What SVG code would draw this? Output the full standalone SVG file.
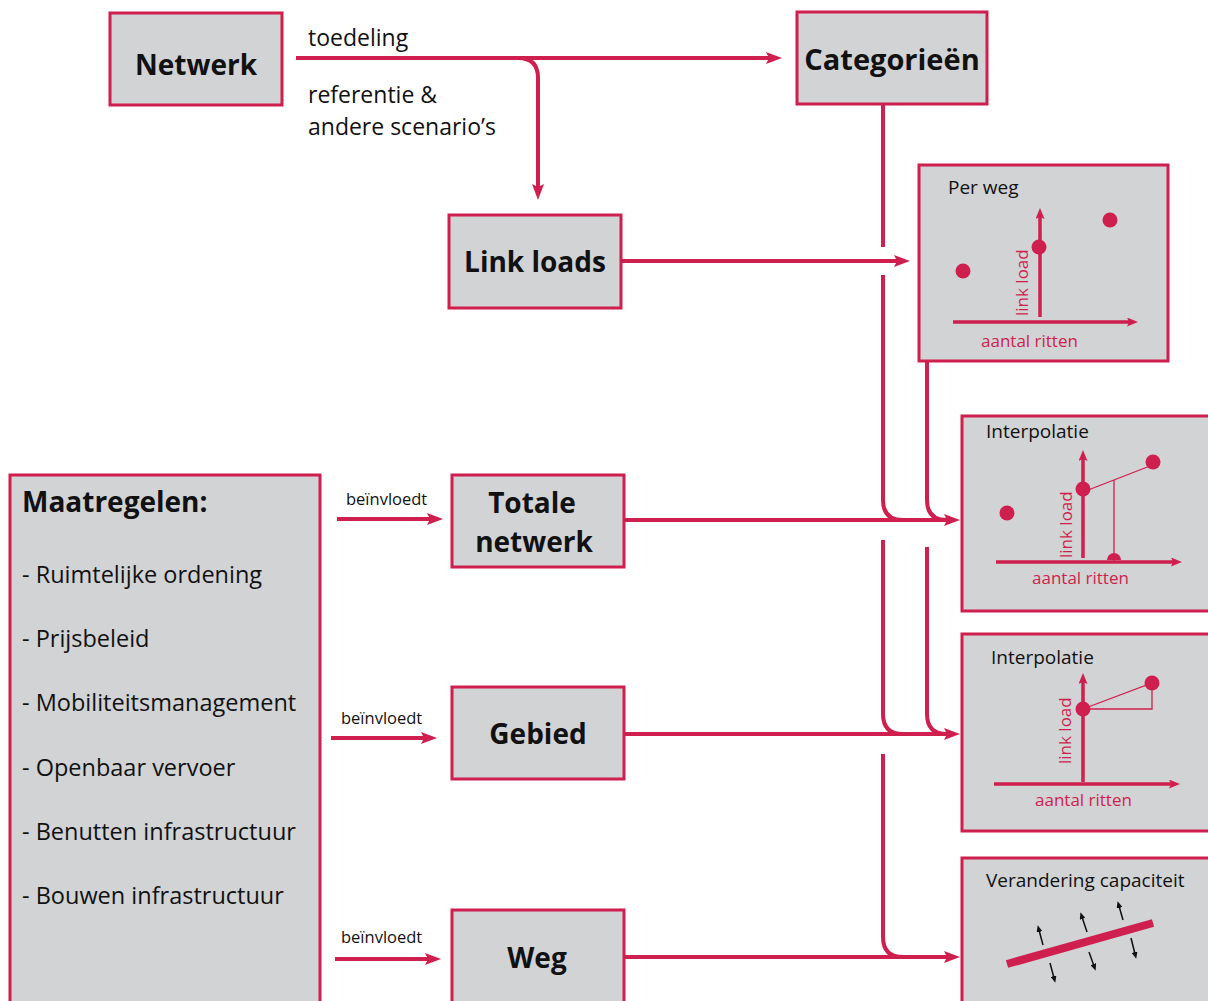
<svg xmlns="http://www.w3.org/2000/svg" width="1208" height="1001" viewBox="0 0 1208 1001">
<defs>
<style>
.box{fill:#d1d3d4;stroke:#cf1f4e;stroke-width:3}
.con{fill:none;stroke:#cf1f4e;stroke-width:4}
.ax{fill:none;stroke:#cf1f4e;stroke-width:3.5}
.thin{fill:none;stroke:#cf1f4e;stroke-width:1.3}
.dot{fill:#cf1f4e}
.nt{font-family:"Open Sans","Liberation Sans",sans-serif;font-weight:bold;font-size:28px;fill:#111;text-anchor:middle}
.lbl{font-family:"Open Sans","Liberation Sans",sans-serif;font-size:23px;fill:#111}
.li{font-family:"Open Sans","Liberation Sans",sans-serif;font-size:23.5px;fill:#111}
.sm{font-family:"Open Sans","Liberation Sans",sans-serif;font-size:16.5px;fill:#111}
.ct{font-family:"Open Sans","Liberation Sans",sans-serif;font-size:19px;fill:#111}
.cl{font-family:"Open Sans","Liberation Sans",sans-serif;font-size:17px;fill:#cf1f4e}
.blk{fill:none;stroke:#111;stroke-width:1.5}
</style>
<marker id="ah" viewBox="0 0 16 12" refX="6" refY="6" markerWidth="16" markerHeight="12" markerUnits="userSpaceOnUse" orient="auto">
<path d="M0,0 L16,6 L0,12 L3,6 z" fill="#cf1f4e"/>
</marker>
<marker id="ahs" viewBox="0 0 11 9" refX="3" refY="4.5" markerWidth="11" markerHeight="9" markerUnits="userSpaceOnUse" orient="auto">
<path d="M0,0 L11,4.5 L0,9 L2,4.5 z" fill="#cf1f4e"/>
</marker>
<marker id="ahb" viewBox="0 0 7 6" refX="2" refY="3" markerWidth="7" markerHeight="6" markerUnits="userSpaceOnUse" orient="auto">
<path d="M0,0 L7,3 L0,6 z" fill="#111"/>
</marker>
</defs>

<g id="connectors">
<path class="con" d="M296,58 H772" marker-end="url(#ah)"/>
<path class="con" d="M518,58 Q538,58 538,78 V190" marker-end="url(#ah)"/>
<path class="con" d="M621,261 H900" marker-end="url(#ah)"/>
<path class="con" d="M883,105 V247"/>
<path class="con" d="M883,275 V500 Q883,520 903,520"/>
<path class="con" d="M927,362 V500 Q927,520 947,520"/>
<path class="con" d="M625,520 H950" marker-end="url(#ah)"/>
<path class="con" d="M883,540 V714 Q883,734 903,734"/>
<path class="con" d="M927,547 V714 Q927,734 947,734"/>
<path class="con" d="M625,734 H950" marker-end="url(#ah)"/>
<path class="con" d="M883,754 V937 Q883,957 903,957"/>
<path class="con" d="M625,957 H950" marker-end="url(#ah)"/>
<path class="con" d="M337,519 H433" marker-end="url(#ah)"/>
<path class="con" d="M331,738 H427" marker-end="url(#ah)"/>
<path class="con" d="M335,959 H431" marker-end="url(#ah)"/>
<text class="lbl" x="308" y="46">toedeling</text>
<text class="lbl" x="308" y="103">referentie &amp;</text>
<text class="lbl" x="308" y="135">andere scenario’s</text>
<text class="sm" x="346" y="505">beïnvloedt</text>
<text class="sm" x="341" y="724">beïnvloedt</text>
<text class="sm" x="341" y="943">beïnvloedt</text>
</g>

<g id="netwerk">
<rect class="box" x="110" y="13" width="172" height="92"/>
<text class="nt" x="196" y="75">Netwerk</text>
</g>

<g id="categorieen">
<rect class="box" x="797" y="12" width="190" height="92"/>
<text class="nt" x="892" y="70" style="font-size:29px">Categorieën</text>
</g>

<g id="link-loads">
<rect class="box" x="449" y="215" width="172" height="93"/>
<text class="nt" x="535" y="272">Link loads</text>
</g>

<g id="maatregelen">
<rect class="box" x="10" y="475" width="310" height="540"/>
<text class="nt" x="22" y="512" style="text-anchor:start">Maatregelen:</text>
<text class="li" x="22" y="583">- Ruimtelijke ordening</text>
<text class="li" x="22" y="647">- Prijsbeleid</text>
<text class="li" x="22" y="711">- Mobiliteitsmanagement</text>
<text class="li" x="22" y="776">- Openbaar vervoer</text>
<text class="li" x="22" y="840">- Benutten infrastructuur</text>
<text class="li" x="22" y="904">- Bouwen infrastructuur</text>
</g>

<g id="totale-netwerk">
<rect class="box" x="452" y="475" width="172" height="92"/>
<text class="nt" x="532" y="513">Totale</text>
<text class="nt" x="534" y="552">netwerk</text>
</g>

<g id="gebied">
<rect class="box" x="452" y="687" width="172" height="92"/>
<text class="nt" x="538" y="744">Gebied</text>
</g>

<g id="weg">
<rect class="box" x="452" y="910" width="172" height="110"/>
<text class="nt" x="537" y="968">Weg</text>
</g>

<g id="per-weg">
<rect class="box" x="919" y="165" width="249" height="196"/>
<text class="ct" x="948" y="194">Per weg</text>
<path class="ax" d="M1040,317 V216" marker-end="url(#ahs)"/>
<path class="ax" d="M953,322 H1130" marker-end="url(#ahs)"/>
<circle class="dot" cx="963" cy="271" r="7.5"/>
<circle class="dot" cx="1039" cy="247" r="7.5"/>
<circle class="dot" cx="1110" cy="220" r="7.5"/>
<text class="cl" transform="translate(1028,316) rotate(-90)">link load</text>
<text class="cl" x="981" y="347">aantal ritten</text>
</g>

<g id="interpolatie-1">
<rect class="box" x="962" y="416" width="260" height="195"/>
<text class="ct" x="986" y="438">Interpolatie</text>
<path class="thin" d="M1083,492 L1150,466"/>
<path class="thin" d="M1114,480 V562"/>
<path class="ax" d="M1083,558 V458" marker-end="url(#ahs)"/>
<path class="ax" d="M996,562 H1174" marker-end="url(#ahs)"/>
<circle class="dot" cx="1007" cy="513" r="7.5"/>
<circle class="dot" cx="1083" cy="489" r="7.5"/>
<circle class="dot" cx="1153" cy="462" r="7.5"/>
<path class="dot" d="M1107,560 A7,7 0 0 1 1121,560 Z"/>
<text class="cl" transform="translate(1072,558) rotate(-90)">link load</text>
<text class="cl" x="1032" y="584">aantal ritten</text>
</g>

<g id="interpolatie-2">
<rect class="box" x="962" y="634" width="260" height="197"/>
<text class="ct" x="991" y="664">Interpolatie</text>
<path class="thin" d="M1083,709 L1152,683 V709 H1083"/>
<path class="ax" d="M1083,782 V681" marker-end="url(#ahs)"/>
<path class="ax" d="M994,784 H1172" marker-end="url(#ahs)"/>
<circle class="dot" cx="1083" cy="709" r="7.5"/>
<circle class="dot" cx="1152" cy="683" r="7.5"/>
<text class="cl" transform="translate(1071,764) rotate(-90)">link load</text>
<text class="cl" x="1035" y="806">aantal ritten</text>
</g>

<g id="verandering-capaciteit">
<rect class="box" x="962" y="858" width="260" height="160"/>
<text class="ct" x="986" y="887">Verandering capaciteit</text>
<path d="M1007,964 L1153,923" stroke="#cf1f4e" stroke-width="8" fill="none"/>
<path class="blk" d="M1043,945 L1039,930" marker-end="url(#ahb)"/>
<path class="blk" d="M1050,963 L1054,978" marker-end="url(#ahb)"/>
<path class="blk" d="M1087,932 L1082,917" marker-end="url(#ahb)"/>
<path class="blk" d="M1089,952 L1094,966" marker-end="url(#ahb)"/>
<path class="blk" d="M1123,920 L1119,906" marker-end="url(#ahb)"/>
<path class="blk" d="M1131,938 L1135,954" marker-end="url(#ahb)"/>
</g>
</svg>
